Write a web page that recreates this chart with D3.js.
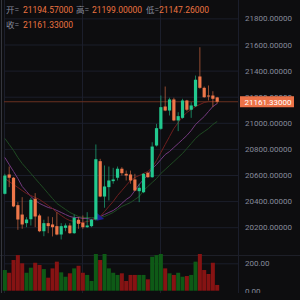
<!DOCTYPE html>
<html>
<head>
<meta charset="utf-8">
<script src="https://cdn.jsdelivr.net/npm/d3@7"></script>
<style>
  body { margin: 0; background: #0d0d0f; }
  svg { display: block; }
</style>
</head>
<body>
<div id="chart"></div>
<script>
// candles, oldest first
var opens  = [20456, 20604, 20579, 20369, 20297, 20231, 20261, 20418, 20290, 20169,
              20231, 20221, 20208, 20144, 20195, 20213, 20154, 20257, 20234, 20200,
              20208, 20259, 20706, 20435, 20507, 20553, 20579, 20648, 20609, 20604,
              20566, 20476, 20468, 20617, 20583, 20826, 20954, 21125, 21094, 21179,
              21018, 21038, 21171, 21100, 21127, 21355, 21268, 21209, 21209, 21194.57];
var highs  = [20609, 20665, 20585, 20392, 20430, 20277, 20425, 20461, 20303, 20257,
              20282, 20277, 20315, 20231, 20229, 20231, 20297, 20277, 20290, 20315,
              20265, 20834, 20724, 20673, 20665, 20655, 20665, 20660, 20634, 20634,
              20609, 20533, 20614, 20622, 20851, 20992, 21209, 21278, 21192, 21192,
              21081, 21184, 21176, 21158, 21362, 21579, 21278, 21286, 21242, 21199];
var lows   = [20451, 20507, 20353, 20180, 20188, 20200, 20213, 20200, 20162, 20131,
              20154, 20129, 20138, 20106, 20169, 20149, 20149, 20188, 20188, 20195,
              20200, 20251, 20430, 20349, 20405, 20533, 20558, 20596, 20558, 20533,
              20476, 20392, 20461, 20579, 20579, 20818, 20946, 21089, 21056, 21012,
              20936, 21031, 21089, 21038, 21120, 21261, 21192, 21171, 21120, 21147.26];
var closes = [20596, 20579, 20359, 20259, 20221, 20259, 20410, 20282, 20169, 20231,
              20208, 20200, 20144, 20208, 20213, 20154, 20272, 20226, 20200, 20213,
              20257, 20721, 20435, 20512, 20558, 20566, 20648, 20614, 20596, 20558,
              20481, 20502, 20609, 20583, 20818, 20959, 21120, 21094, 21179, 21018,
              21051, 21171, 21100, 21133, 21330, 21268, 21196, 21202, 21184, 21161.33];
var volumes = [151, 131, 224, 260, 200, 131, 168, 204, 188, 158,
               95, 163, 212, 134, 102, 127, 163, 182, 131, 115,
               71, 268, 224, 268, 163, 131, 115, 127, 71, 115,
               115, 115, 115, 83, 248, 260, 268, 163, 127, 115,
               131, 102, 107, 115, 212, 268, 151, 122, 204, 42];

// moving averages
var maFast = [20573, 20550, 20527, 20504, 20481, 20458, 20443, 20428, 20412, 20389,
              20366, 20343, 20313, 20290, 20267, 20251, 20244, 20236, 20236, 20244,
              20251, 20267, 20282, 20320, 20359, 20397, 20443, 20481, 20520, 20558,
              20581, 20596, 20612, 20627, 20658, 20711, 20772, 20834, 20895, 20956,
              21002, 21048, 21079, 21102, 21125, 21140, 21156, 21163, 21163, 21163];
var maMid  = [20734, 20680, 20627, 20573, 20512, 20474, 20435, 20405, 20382, 20366,
              20351, 20343, 20328, 20313, 20297, 20282, 20274, 20274, 20267, 20267,
              20259, 20267, 20282, 20297, 20313, 20328, 20351, 20382, 20412, 20435,
              20481, 20527, 20565, 20604, 20650, 20680, 20719, 20757, 20780, 20811,
              20841, 20872, 20903, 20941, 20987, 21018, 21048, 21087, 21125, 21148];
var maSlow = [20880, 20834, 20788, 20734, 20688, 20650, 20612, 20573, 20535, 20497,
              20458, 20420, 20382, 20359, 20336, 20313, 20297, 20282, 20274, 20274,
              20274, 20274, 20274, 20282, 20297, 20313, 20336, 20359, 20374, 20389,
              20412, 20435, 20481, 20512, 20543, 20573, 20612, 20642, 20673, 20703,
              20734, 20765, 20803, 20841, 20880, 20910, 20933, 20956, 20987, 21010];

var priceTicks = [20200, 20400, 20600, 20800, 21000, 21200, 21400, 21600, 21800];
var volTicks = [0, 200];
var timeTicks = [-0.2, 17.8, 35.8, 53.8];
var timeLabels = ["20", "12:00", "18:00", "21"];
var lastPrice = 21161.33;
var headerLabels = ["开=", "高=", "低=", "收="];
var headerValues = ["21194.57000", "21199.00000", "21147.26000", "21161.33000"];

var upColor = "#22c98f", downColor = "#ee7649";
var volUp = "#0e5a16", volDown = "#861313";
var gridColor = "#1b1e2b", textColor = "#868b9b";

var width = 300, height = 300;
var plotLeft = 4, plotRight = 238;

var svg = d3.select("#chart").append("svg")
    .attr("width", width)
    .attr("height", height)
    .style("font-family", "Roboto, 'Noto Sans CJK SC', sans-serif");

svg.append("rect").attr("width", width).attr("height", height).attr("fill", "#0d0d0f");

var x = d3.scaleLinear().domain([-0.2, 53.8]).range([plotLeft, plotRight]);
var y = d3.scaleLinear().domain([20200, 21800]).range([227.2, 18.4]);
var yv = d3.scaleLinear().domain([0, 200]).range([290.7, 263.3]);

var idx = d3.range(closes.length);

// grid
svg.append("g").selectAll("line").data(priceTicks).enter().append("line")
    .attr("x1", plotLeft).attr("x2", plotRight)
    .attr("y1", d => y(d) + 0.5).attr("y2", d => y(d) + 0.5)
    .attr("stroke", gridColor);
svg.append("g").selectAll("line").data(volTicks.slice(1)).enter().append("line")
    .attr("x1", plotLeft).attr("x2", plotRight)
    .attr("y1", d => yv(d) + 0.5).attr("y2", d => yv(d) + 0.5)
    .attr("stroke", gridColor);
svg.append("g").selectAll("line").data(timeTicks).enter().append("line")
    .attr("x1", d => Math.round(x(d)) + 0.5).attr("x2", d => Math.round(x(d)) + 0.5)
    .attr("y1", 0).attr("y2", 293)
    .attr("stroke", gridColor);
// pane separator
svg.append("line").attr("x1", 0).attr("x2", width).attr("y1", 255.5).attr("y2", 255.5)
    .attr("stroke", "#1d1f28");
// left border
svg.append("line").attr("x1", 1.5).attr("x2", 1.5).attr("y1", 0).attr("y2", 293)
    .attr("stroke", "#34363d");

// header: open / high / low on the first row, close on the second
var hx = [6, 76, 146, 6], hy = [13, 13, 13, 27.5], vx = [23, 92, 159, 23];
headerLabels.forEach(function (lab, i) {
    svg.append("text").attr("x", hx[i]).attr("y", hy[i])
        .attr("font-size", 8.5).attr("fill", textColor).text(lab);
    svg.append("text").attr("x", vx[i]).attr("y", hy[i])
        .attr("font-size", 8.5).attr("fill", "#ec7441").text(headerValues[i]);
});

// price axis labels
svg.append("g").selectAll("text").data(priceTicks).enter().append("text")
    .attr("x", 245).attr("y", d => y(d) + 3)
    .attr("font-size", 8).attr("fill", textColor)
    .text(d => d3.format(".5f")(d));

// volume axis labels (bottom clipped)
svg.append("clipPath").attr("id", "volclip").append("rect")
    .attr("x", 0).attr("y", 256).attr("width", 300).attr("height", 37);
svg.append("g").attr("clip-path", "url(#volclip)")
    .selectAll("text").data(volTicks).enter().append("text")
    .attr("x", 245).attr("y", d => yv(d) + 3)
    .attr("font-size", 8).attr("fill", textColor)
    .text(d => d3.format(".2f")(d));

// time labels, only their tops show
svg.append("g").selectAll("text").data(timeTicks).enter().append("text")
    .attr("x", (d, i) => i == 0 ? 11 : x(d) - (i == 3 ? 5 : 0))
    .attr("y", 305.5)
    .attr("text-anchor", "middle")
    .attr("font-size", 8).attr("fill", textColor)
    .text((d, i) => timeLabels[i]);

// moving averages
function maLine(vals, color) {
    svg.append("path")
        .datum(vals)
        .attr("fill", "none")
        .attr("stroke", color)
        .attr("stroke-width", 1)
        .attr("d", d3.line().x((d, i) => x(i)).y(d => y(d)));
}
maLine(maSlow, "#1f4a22");
maLine(maMid, "#73397e");
maLine(maFast, "#6e1e1e");

// last price line
svg.append("line")
    .attr("x1", plotLeft).attr("x2", plotRight)
    .attr("y1", y(lastPrice)).attr("y2", y(lastPrice))
    .attr("stroke", "#6a3020").attr("stroke-width", 1.2);

// marker near the breakout candle
svg.append("path")
    .attr("d", "M" + x(21.2) + "," + y(20250) + "L" + x(21.2) + "," + y(20310) + "L" + x(22.9) + "," + y(20262) + "Z")
    .attr("fill", "#1d1f8f");

// candles
var cg = svg.append("g");
cg.selectAll(".wick").data(idx).enter().append("line")
    .attr("x1", i => x(i)).attr("x2", i => x(i))
    .attr("y1", i => y(highs[i])).attr("y2", i => y(lows[i]))
    .attr("stroke", i => closes[i] >= opens[i] ? upColor : downColor)
    .attr("stroke-width", 0.8)
    .attr("opacity", 0.75);
cg.selectAll(".body").data(idx).enter().append("rect")
    .attr("x", i => x(i) - 1.6)
    .attr("width", 3.2)
    .attr("y", i => y(Math.max(opens[i], closes[i])))
    .attr("height", i => Math.max(1, Math.abs(y(opens[i]) - y(closes[i]))))
    .attr("fill", i => closes[i] >= opens[i] ? upColor : downColor);

// volume bars
svg.append("g").selectAll("rect").data(idx).enter().append("rect")
    .attr("x", i => x(i) - 2)
    .attr("width", 4)
    .attr("y", i => yv(volumes[i]))
    .attr("height", i => yv(0) - yv(volumes[i]))
    .attr("fill", i => closes[i] >= opens[i] ? volUp : volDown);

// last price tag
svg.append("rect").attr("x", 240).attr("y", y(lastPrice) - 5.5)
    .attr("width", 54).attr("height", 11).attr("fill", "#ec7248");
svg.append("text").attr("x", 244.5).attr("y", y(lastPrice) + 3)
    .attr("font-size", 8).attr("fill", "#ffffff")
    .text(d3.format(".5f")(lastPrice));
</script>
</body>
</html>
